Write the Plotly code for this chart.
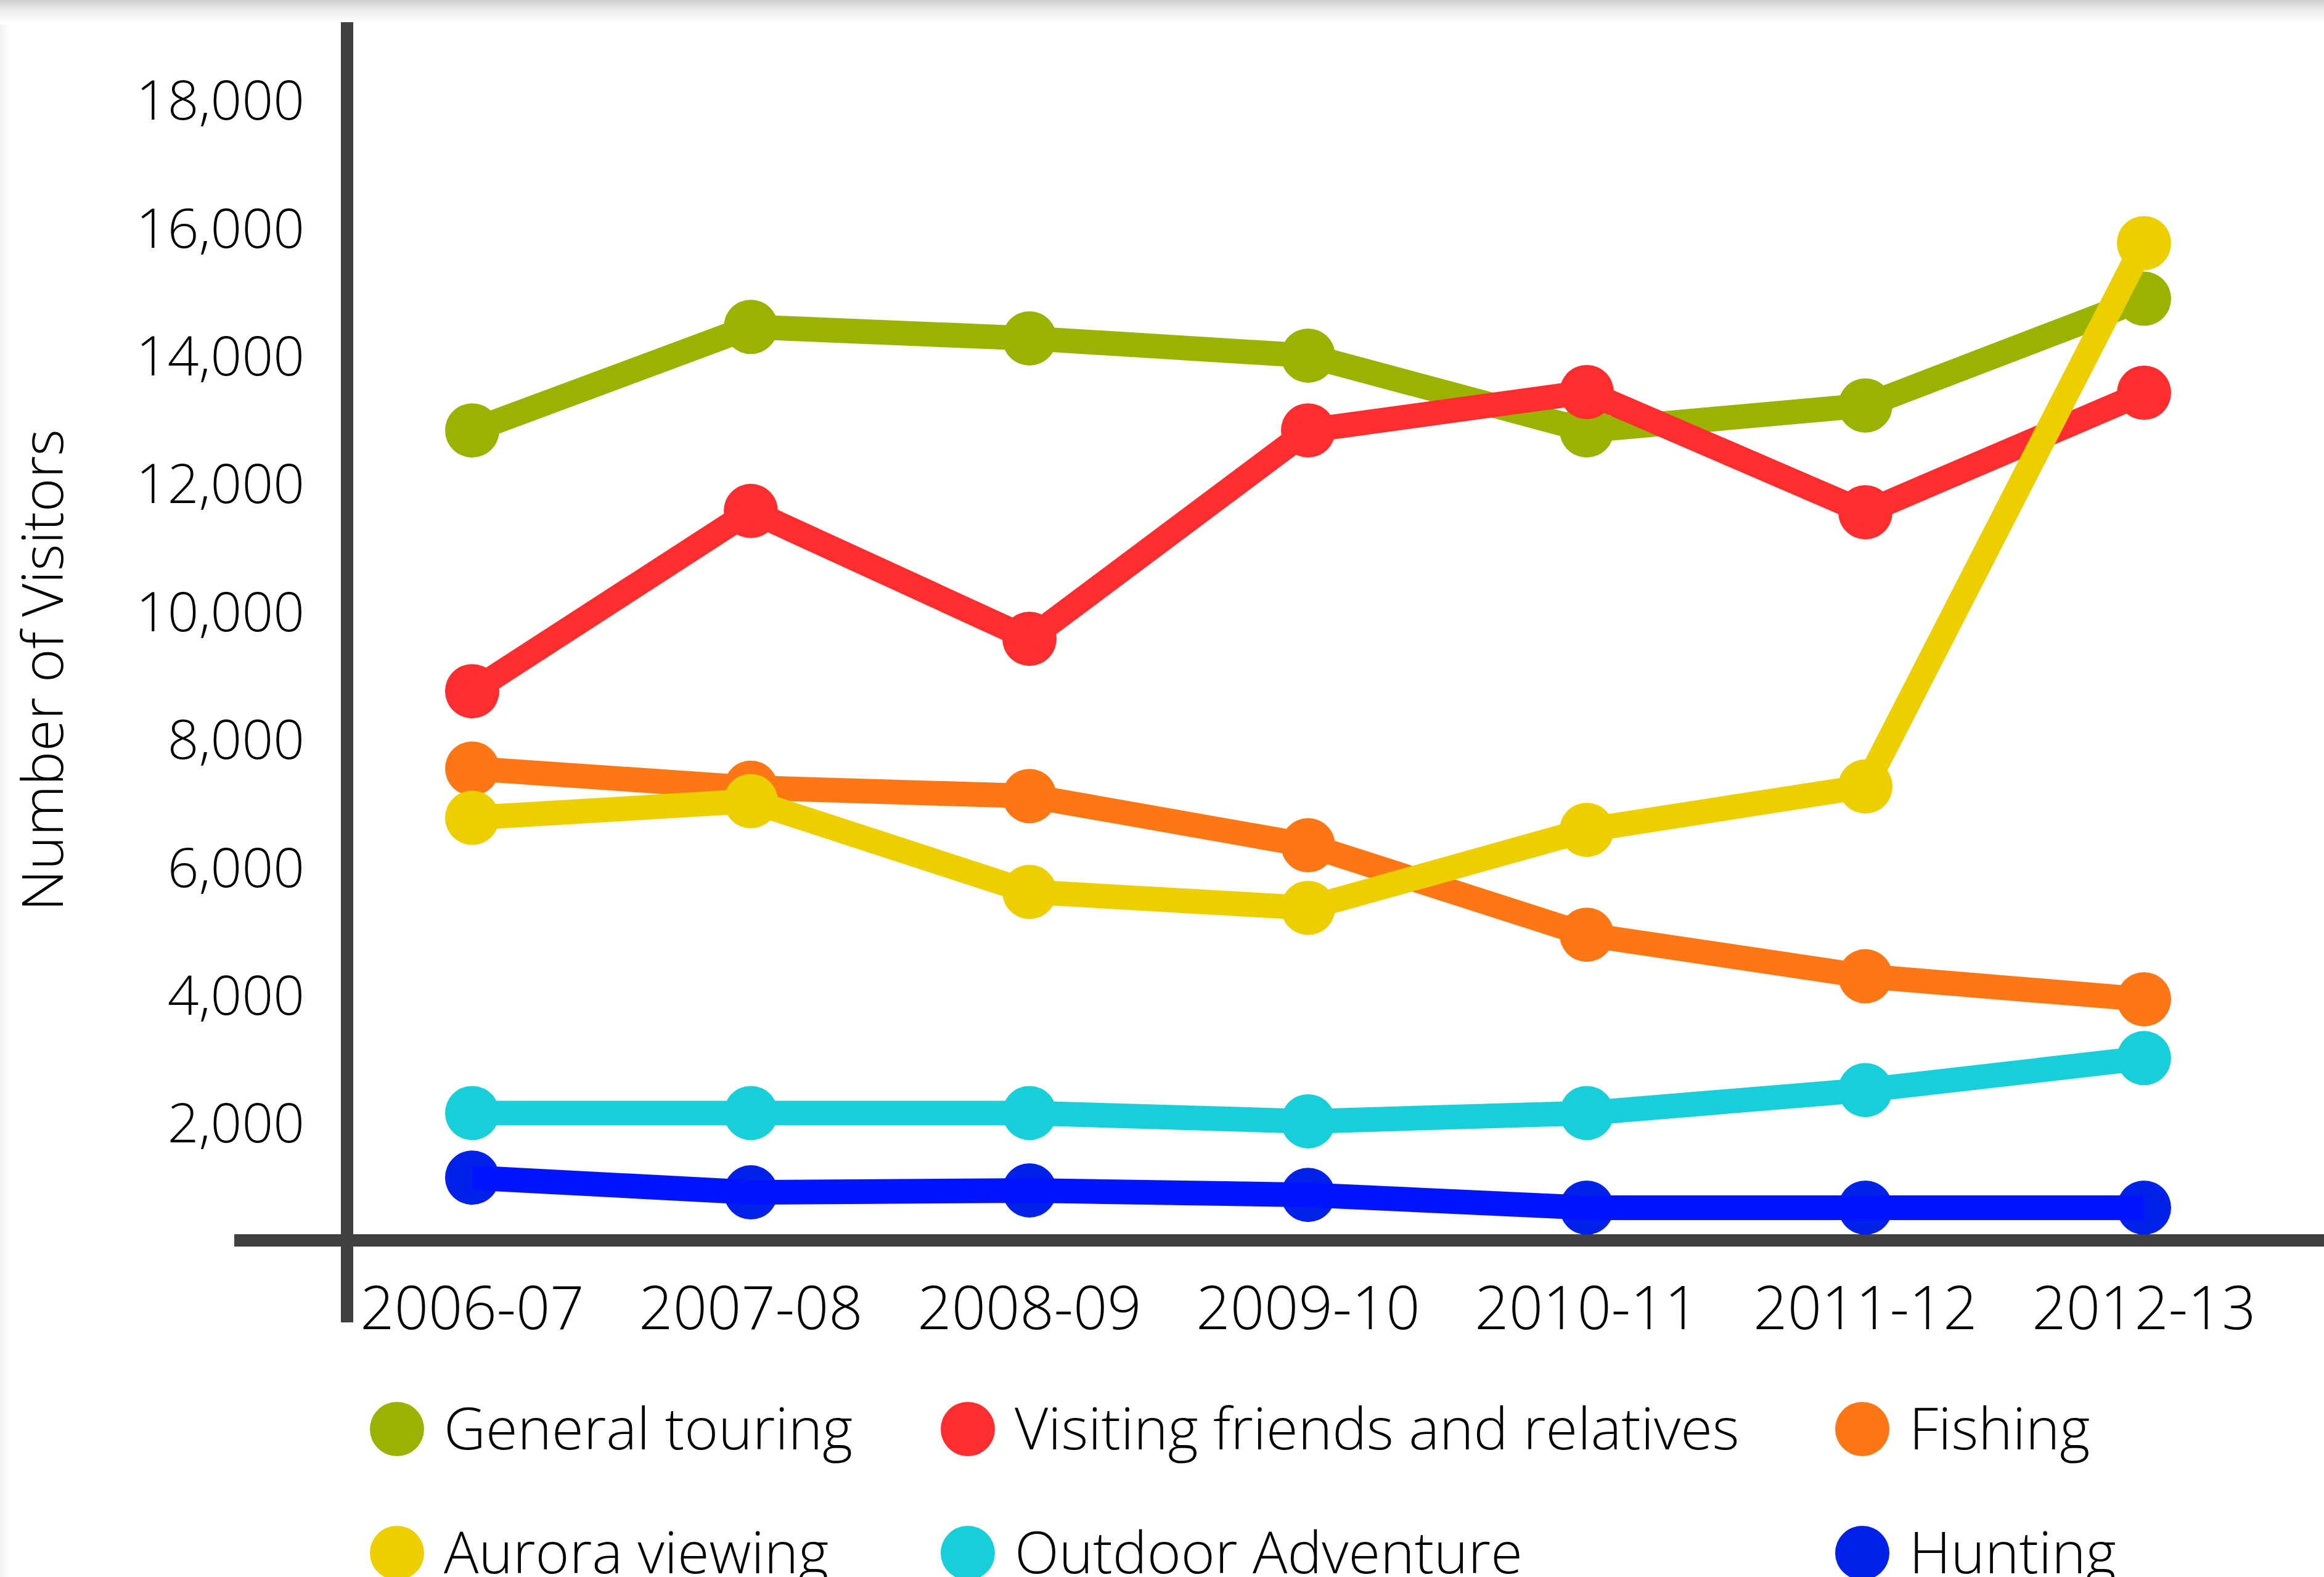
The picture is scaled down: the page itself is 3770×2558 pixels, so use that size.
import plotly.graph_objects as go

# Visitor numbers by purpose of trip, per season
seasons = ["2006-07", "2007-08", "2008-09", "2009-10", "2010-11", "2011-12", "2012-13"]

general_touring = [12840, 14460, 14280, 14010, 12840, 13230, 14900]
visiting_friends = [8760, 11580, 9580, 12840, 13440, 11560, 13430]
fishing = [7550, 7250, 7120, 6350, 4950, 4300, 3940]
aurora_viewing = [6780, 7040, 5620, 5370, 6590, 7270, 15770]
outdoor_adventure = [2160, 2160, 2160, 2030, 2160, 2520, 3020]
hunting = [1150, 920, 950, 880, 680, 680, 680]

series_names = [
    "General touring",
    "Visiting friends and relatives",
    "Fishing",
    "Aurora viewing",
    "Outdoor Adventure",
    "Hunting",
]
series_values = [
    general_touring,
    visiting_friends,
    fishing,
    aurora_viewing,
    outdoor_adventure,
    hunting,
]

y_tick_values = [2000, 4000, 6000, 8000, 10000, 12000, 14000, 16000, 18000]

# Styling
line_colors = ["#9ab300", "#ff2d2d", "#ff7714", "#edcf00", "#17cfd9", "#0014ff"]
marker_colors = ["#9ab300", "#ff2d2d", "#ff7714", "#edcf00", "#17cfd9", "#0021ea"]
AXIS_COLOR = "#414141"
FONT = "Open Sans"
FONT_WEIGHT = 300

W, H = 3770, 2558
L, R, T, B = 563, 0, 39, 546
PLOT_W = W - L - R
PLOT_H = H - T - B


def px_x(px):
    return (px - L) / PLOT_W


def px_y(py):
    return (H - B - py) / PLOT_H


def text_font(size):
    return dict(family=FONT, size=size, color="black", weight=FONT_WEIGHT)


fig = go.Figure()

# markers first, then the connecting line on top, series by series
for name, vals, lc, mc in zip(series_names, series_values, line_colors, marker_colors):
    fig.add_trace(go.Scatter(
        x=seasons, y=vals, mode="markers", name=name, showlegend=False,
        marker=dict(size=88, color=mc, line=dict(width=0)),
        hoverinfo="x+y+name",
    ))
    fig.add_trace(go.Scatter(
        x=seasons, y=vals, mode="lines", name=name, showlegend=False,
        line=dict(color=lc, width=40),
        hoverinfo="skip",
    ))

shapes = []

# soft grey shading along the top and left edges of the page
top_band = 40
for i in range(0, top_band, 2):
    a = 0.18 * (1 - i / top_band) ** 1.6
    shapes.append(dict(
        type="rect", xref="paper", yref="paper", layer="below",
        x0=px_x(0), x1=px_x(W), y0=px_y(i + 2), y1=px_y(i),
        fillcolor=f"rgba(0,0,0,{a:.4f})", line=dict(width=0),
    ))
left_band = 16
for i in range(0, left_band, 2):
    a = 0.05 * (1 - i / left_band) ** 1.2
    shapes.append(dict(
        type="rect", xref="paper", yref="paper", layer="below",
        x0=px_x(i), x1=px_x(i + 2), y0=px_y(H), y1=px_y(top_band),
        fillcolor=f"rgba(0,0,0,{a:.4f})", line=dict(width=0),
    ))

# crossing axis lines
shapes.append(dict(
    type="line", xref="paper", yref="paper", layer="below",
    x0=0, x1=0, y0=px_y(2145), y1=px_y(36),
    line=dict(color=AXIS_COLOR, width=20),
))
shapes.append(dict(
    type="line", xref="paper", yref="paper", layer="below",
    x0=px_x(380), x1=1, y0=0, y1=0,
    line=dict(color=AXIS_COLOR, width=20),
))

# legend laid out as a 3 x 2 grid below the axis
legend_cols = [644, 1570, 3021]
legend_rows = [2318, 2519]
annotations = []
for i, (name, mc) in enumerate(zip(series_names, marker_colors)):
    cx = legend_cols[i % 3]
    cy = legend_rows[i // 3]
    shapes.append(dict(
        type="circle", xref="paper", yref="paper",
        xsizemode="pixel", ysizemode="pixel",
        xanchor=px_x(cx), yanchor=px_y(cy),
        x0=-44, x1=44, y0=-44, y1=44,
        fillcolor=mc, line=dict(width=0),
    ))
    annotations.append(dict(
        text=name, xref="paper", yref="paper",
        x=px_x(cx + 74), y=px_y(cy - 3), xanchor="left", yanchor="middle",
        showarrow=False, font=text_font(94),
    ))

annotations.append(dict(
    text="Number of Visitors", xref="paper", yref="paper",
    x=px_x(66), y=px_y(1087), xanchor="center", yanchor="middle",
    textangle=-90, showarrow=False, font=text_font(93),
))

fig.update_layout(
    width=W, height=H,
    margin=dict(l=L, r=R, t=T, b=B, pad=0),
    paper_bgcolor="white",
    plot_bgcolor="rgba(0,0,0,0)",
    showlegend=False,
    shapes=shapes,
    annotations=annotations,
    font=dict(family=FONT, color="black"),
    xaxis=dict(
        type="category", categoryorder="array", categoryarray=seasons,
        range=[-0.4491, 6.646],
        showline=False, showgrid=False, zeroline=False, ticks="",
        tickfont=text_font(97),
        ticklabelstandoff=46,
    ),
    yaxis=dict(
        range=[168, 19198],
        tickvals=y_tick_values, tickformat=",d",
        showline=False, showgrid=False, zeroline=False, ticks="",
        tickfont=text_font(89),
        ticklabelstandoff=68,
    ),
)

fig.write_html("out.html")
